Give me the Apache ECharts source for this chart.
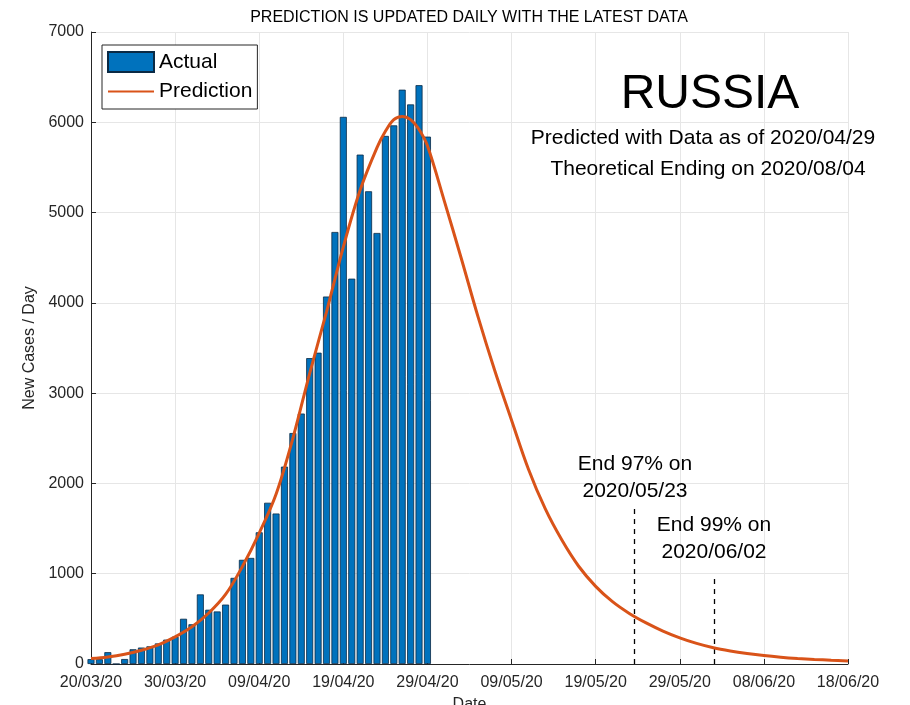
<!DOCTYPE html>
<html>
<head>
<meta charset="utf-8">
<script src="https://cdn.jsdelivr.net/npm/echarts@6/dist/echarts.min.js"></script>
<style>
html,body{margin:0;padding:0;background:#fff;overflow:hidden;}
#chart{width:910px;height:705px;}
</style>
</head>
<body>
<div id="chart"></div>
<script>
// ---- data ----
const barDays = [0,1,2,3,4,5,6,7,8,9,10,11,12,13,14,15,16,17,18,19,20,21,22,23,24,25,26,27,28,29,30,31,32,33,34,35,36,37,38,39,40];
const actual = [54,53,131,0,55,163,182,196,228,270,302,501,440,771,601,582,658,954,1154,1175,1459,1786,1667,2186,2558,2774,3388,3448,4070,4785,6060,4268,5642,5236,4774,5849,5966,6361,6198,6411,5841];
const predDays = [0,2,4,6,8,10,12,14,16,18,20,22,24,26,28,30,32,34,35,36,37,38,39,40,42,44,46,48,50,52,54,56,58,60,62,64,66,68,70,72,74,76,78,80,82,84,86,88,90];
const predValues = [60,78,108,152,212,300,412,565,770,1080,1450,1880,2500,3220,3900,4620,5250,5720,5900,6030,6065,6030,5920,5740,5130,4500,3850,3250,2700,2160,1720,1370,1080,860,690,560,455,365,290,228,180,145,117,94,76,62,51,42,34];
const tickLabels = ['20/03/20','30/03/20','09/04/20','19/04/20','29/04/20','09/05/20','19/05/20','29/05/20','08/06/20','18/06/20'];
const end97 = {day: 64.6, top: 1760, label1: 'End 97% on', label2: '2020/05/23'};
const end99 = {day: 74.1, top: 990, label1: 'End 99% on', label2: '2020/06/02'};
const titleText = 'PREDICTION IS UPDATED DAILY WITH THE LATEST DATA';
const countryText = 'RUSSIA';
const infoLine1 = 'Predicted with Data as of 2020/04/29';
const infoLine2 = 'Theoretical Ending on 2020/08/04';

const FONT = '"Liberation Sans", Arial, Helvetica, sans-serif';
const TXT = '#262626';
const chart = echarts.init(document.getElementById('chart'), null, {renderer: 'canvas', width: 910, height: 705});

function txt(text, x, y, size) {
  return {type: 'text', x: x, y: y, z: 100,
    style: {text: text, fontSize: size, fontFamily: FONT, fill: '#000', align: 'center', verticalAlign: 'middle'}};
}

const option = {
  animation: false,
  backgroundColor: '#fff',
  grid: {left: 91, width: 757, top: 32, height: 632, containLabel: false, outerBoundsMode: 'none'},
  legend: {
    orient: 'vertical', left: 102, top: 45,
    padding: [6, 5, 7, 5], itemGap: 8, itemWidth: 46, itemHeight: 20,
    borderColor: '#262626', borderWidth: 1, backgroundColor: '#fff',
    textStyle: {fontSize: 21, fontFamily: FONT, color: '#000'},
    data: [{name: 'Actual', icon: 'rect'}, {name: 'Prediction', itemStyle: {opacity: 0}}]
  },
  xAxis: {
    type: 'value', min: 0, max: 90, interval: 10,
    name: 'Date', nameLocation: 'middle', nameGap: 33,
    nameTextStyle: {fontSize: 16, fontFamily: FONT, color: TXT},
    axisLine: {show: true, onZero: false, lineStyle: {color: '#262626', width: 1}},
    axisTick: {show: true, inside: true, length: 5, lineStyle: {color: '#262626'}},
    axisLabel: {fontSize: 16, fontFamily: FONT, color: TXT, margin: 11,
      formatter: v => tickLabels[Math.round(v / 10)] || ''},
    splitLine: {show: true, lineStyle: {color: '#e6e6e6', width: 1}}
  },
  yAxis: {
    type: 'value', min: 0, max: 7000, interval: 1000,
    name: 'New Cases / Day', nameLocation: 'middle', nameGap: 45, nameRotate: 90,
    nameTextStyle: {fontSize: 16, fontFamily: FONT, color: TXT},
    axisLine: {show: true, lineStyle: {color: '#262626', width: 1}},
    axisTick: {show: true, inside: true, length: 5, lineStyle: {color: '#262626'}},
    axisLabel: {fontSize: 16, fontFamily: FONT, color: TXT, margin: 7, formatter: v => String(v)},
    splitLine: {show: true, lineStyle: {color: '#e6e6e6', width: 1}}
  },
  series: [
    {
      name: 'Actual', type: 'bar', barWidth: 7, clip: true,
      itemStyle: {color: '#0072BD', borderColor: '#0a2a45', borderWidth: 0.8},
      data: barDays.map((d, i) => [d, actual[i]])
    },
    {
      name: 'Prediction', type: 'line', smooth: 0.35, symbol: 'none', z: 5,
      lineStyle: {color: '#D95319', width: 3},
      itemStyle: {color: '#D95319'},
      data: predDays.map((d, i) => [d, predValues[i]]),
      markLine: {
        silent: true, symbol: ['none', 'none'], label: {show: false},
        lineStyle: {color: '#000', type: [5, 5], width: 1.3},
        data: [
          [{coord: [end97.day, 0]}, {coord: [end97.day, end97.top]}],
          [{coord: [end99.day, 0]}, {coord: [end99.day, end99.top]}]
        ]
      }
    }
  ],
  graphic: [
    txt(titleText, 469, 18, 16),
    txt(countryText, 710, 95, 48),
    txt(infoLine1, 703, 138, 21),
    txt(infoLine2, 708, 169, 21),
    txt(end97.label1, 635, 464, 21),
    txt(end97.label2, 635, 491, 21),
    txt(end99.label1, 714, 525, 21),
    txt(end99.label2, 714, 552, 21)
  ]
};
chart.setOption(option);
</script>
</body>
</html>
